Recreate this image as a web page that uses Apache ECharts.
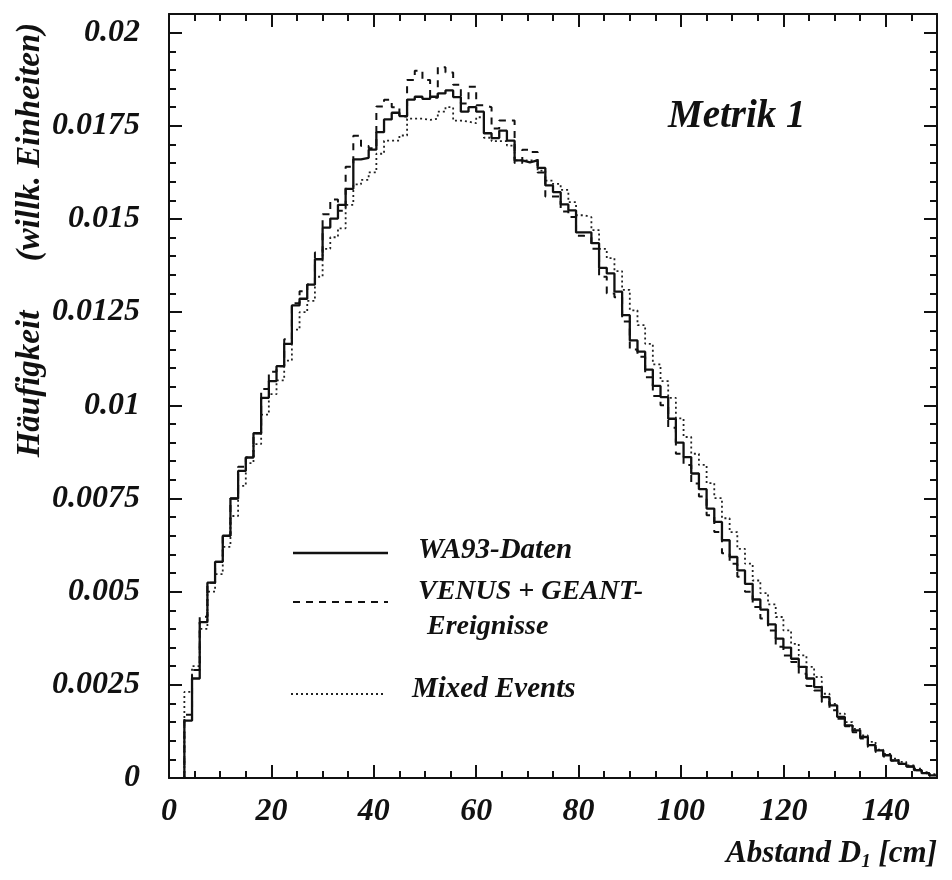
<!DOCTYPE html>
<html><head><meta charset="utf-8">
<script src="https://cdn.jsdelivr.net/npm/echarts@6/dist/echarts.min.js"></script>
<style>html,body{margin:0;padding:0;background:#fff}#c{width:952px;height:880px}</style>
</head><body><div id="c"></div>
<script>
// Histogram binning (bins start at 3 cm, 1.5 cm wide, up to 150 cm)
const binStart = 3;
const binWidth = 1.5;
const xMin = 0, xMax = 150;
const yMin = 0, yMax = 0.0205;

// WA93-Daten (solid)
const wa93 = [
 0.00154,0.00267,0.00418,0.00524,0.0058,0.0065,0.0075,0.00824,0.0086,0.00925,
 0.0102,0.01065,0.01105,0.01165,0.01268,0.01286,0.01324,0.01392,0.01477,0.01501,
 0.01538,0.01581,0.0166,0.01664,0.01686,0.01733,0.01767,0.01785,0.01776,0.0182,
 0.01828,0.01822,0.01828,0.01837,0.01845,0.01827,0.01788,0.018,0.01788,0.0173,
 0.01717,0.01737,0.0171,0.01657,0.01652,0.01657,0.01637,0.0159,0.01572,0.01539,
 0.01523,0.01464,0.01464,0.01435,0.01369,0.01354,0.01305,0.01242,0.01174,0.01144,
 0.01096,0.01052,0.01022,0.00964,0.009,0.00861,0.00817,0.00775,0.00723,0.00687,
 0.00638,0.00593,0.00557,0.00521,0.00479,0.00452,0.00412,0.00374,0.0035,0.0032,
 0.00298,0.00267,0.00244,0.00217,0.00195,0.00164,0.00141,0.00128,0.0011,0.00088,
 0.00074,0.00061,0.00047,0.00038,0.00031,0.00021,0.00013,0.00007
];
// VENUS + GEANT-Ereignisse (dashed)
const venus = [
 0.0017,0.0029,0.00433,0.00524,0.0058,0.0065,0.0075,0.00835,0.0086,0.00925,
 0.01044,0.0109,0.01105,0.01177,0.01274,0.01306,0.01324,0.0141,0.01513,0.01552,
 0.01522,0.0164,0.01723,0.01696,0.0169,0.01802,0.0182,0.018,0.01775,0.01873,
 0.01898,0.01873,0.01825,0.01907,0.01893,0.0186,0.0181,0.01855,0.01805,0.018,
 0.01743,0.01764,0.01764,0.0165,0.01686,0.0168,0.01625,0.0156,0.0156,0.0152,
 0.01505,0.01455,0.0145,0.0142,0.01345,0.013,0.0129,0.01225,0.0115,0.0113,
 0.01075,0.01025,0.01,0.0094,0.0087,0.0084,0.0079,0.00755,0.00705,0.0066,
 0.00603,0.00575,0.0054,0.005,0.00459,0.00428,0.00396,0.00352,0.00329,0.00311,
 0.0028,0.00247,0.00235,0.00204,0.00182,0.00159,0.00139,0.00123,0.00106,0.00083,
 0.0007,0.00058,0.00047,0.00038,0.0003,0.00021,0.00013,0.00006
];
// Mixed Events (dotted)
const mixed = [
 0.00231,0.003,0.004,0.005,0.00547,0.0062,0.00703,0.00784,0.00845,0.00896,
 0.00975,0.0103,0.01067,0.0112,0.01203,0.0125,0.0128,0.01345,0.0142,0.01451,
 0.01475,0.01538,0.01593,0.01605,0.01625,0.01675,0.0171,0.0171,0.01724,0.01769,
 0.01769,0.01766,0.01769,0.01788,0.018,0.01764,0.01761,0.01757,0.01773,0.01718,
 0.01709,0.01709,0.01697,0.01657,0.01657,0.01657,0.0163,0.01603,0.01594,0.01578,
 0.01545,0.0151,0.01505,0.0147,0.0142,0.01395,0.0136,0.0131,0.01255,0.01215,
 0.01165,0.0111,0.01065,0.0102,0.00965,0.00915,0.0087,0.0084,0.00791,0.00751,
 0.00697,0.0066,0.00615,0.00575,0.0053,0.00496,0.00466,0.00432,0.00396,0.0036,
 0.00329,0.00298,0.00271,0.00226,0.00199,0.00173,0.0015,0.00132,0.00114,0.00097,
 0.00076,0.00065,0.00052,0.00043,0.00034,0.00025,0.00016,0.0001
];

const xTickLabels = ['0','20','40','60','80','100','120','140'];
const yTickLabels = ['0','0.0025','0.005','0.0075','0.01','0.0125','0.015','0.0175','0.02'];
const legendLabels = ['WA93-Daten','VENUS + GEANT-',' Ereignisse','Mixed Events'];
const titleText = 'Metrik 1';
const xTitle = ['Abstand D','1',' [cm]'];
const yTitle = ['Häufigkeit','(willk. Einheiten)'];

const FONT = "'Liberation Serif','DejaVu Serif',serif";
const INK = '#111';

function toSteps(vals) {
  const pts = [[binStart, 0]];
  vals.forEach((v, i) => pts.push([binStart + i * binWidth, v]));
  pts.push([xMax, vals[vals.length - 1]]);
  return pts;
}

const lbl = {fontFamily: FONT, fontSize: 32, fontWeight: 'bold', fontStyle: 'italic', color: INK};
const tickStyle = {color: INK, width: 2};

function xAx(pos, showLabel) {
  return {
    type: 'value', min: xMin, max: xMax, interval: 20, position: pos,
    axisLine: {show: true, onZero: false, lineStyle: {color: INK, width: 2}},
    axisTick: {show: true, inside: true, length: 13, lineStyle: tickStyle},
    minorTick: {show: true, splitNumber: 4, length: 7, lineStyle: tickStyle},
    splitLine: {show: false}, minorSplitLine: {show: false},
    axisLabel: Object.assign({show: showLabel, margin: 18, showMaxLabel: false,
      formatter: v => xTickLabels[Math.round(v / 20)] ?? ''}, lbl)
  };
}
function yAx(pos, showLabel) {
  return {
    type: 'value', min: yMin, max: yMax, interval: 0.0025, position: pos,
    axisLine: {show: true, onZero: false, lineStyle: {color: INK, width: 2}},
    axisTick: {show: true, inside: true, length: 13, lineStyle: tickStyle},
    minorTick: {show: true, splitNumber: 5, length: 7, lineStyle: tickStyle},
    splitLine: {show: false}, minorSplitLine: {show: false},
    axisLabel: Object.assign({show: showLabel, margin: 29, showMaxLabel: false,
      formatter: v => yTickLabels[Math.round(v / 0.0025)] ?? ''}, lbl)
  };
}

const chart = echarts.init(document.getElementById('c'), null, {renderer: 'canvas'});
const txt = (x, y, text, size, extra) => ({
  type: 'text', x: x, y: y, silent: true,
  style: Object.assign({text: text, fill: INK, fontFamily: FONT, fontSize: size,
    fontWeight: 'bold', fontStyle: 'italic', align: 'left', verticalAlign: 'middle'}, extra || {})
});

chart.setOption({
  animation: false,
  backgroundColor: '#fff',
  grid: {left: 169, right: 15, top: 14, bottom: 102, containLabel: false},
  xAxis: [xAx('bottom', true), xAx('top', false)],
  yAxis: [yAx('left', true), yAx('right', false)],
  series: [
    {name: legendLabels[0], type: 'line', step: 'end', data: toSteps(wa93), symbol: 'none',
     lineStyle: {color: INK, width: 2.3}, z: 4},
    {name: legendLabels[1], type: 'line', step: 'end', data: toSteps(venus), symbol: 'none',
     lineStyle: {color: INK, width: 2, type: [7, 6]}, z: 3},
    {name: legendLabels[3], type: 'line', step: 'end', data: toSteps(mixed), symbol: 'none',
     lineStyle: {color: '#222', width: 1.8, type: [2, 3]}, z: 2}
  ],
  graphic: [
    txt(668, 117, titleText, 39),
    // legend
    {type: 'line', silent: true, shape: {x1: 293, y1: 553, x2: 388, y2: 553}, style: {stroke: INK, lineWidth: 2.3}},
    {type: 'line', silent: true, shape: {x1: 293, y1: 602, x2: 388, y2: 602}, style: {stroke: INK, lineWidth: 2, lineDash: [7, 6]}},
    {type: 'line', silent: true, shape: {x1: 291, y1: 694, x2: 384, y2: 694}, style: {stroke: '#222', lineWidth: 1.8, lineDash: [2, 3]}},
    txt(418, 551, legendLabels[0], 29),
    txt(418, 592, legendLabels[1], 28),
    txt(420, 627, legendLabels[2], 28),
    txt(412, 690, legendLabels[3], 29),
    // x axis title with subscript
    {type: 'text', x: 937, y: 854, silent: true,
     style: {text: '{m|' + xTitle[0] + '}{s|' + xTitle[1] + '}{m|' + xTitle[2] + '}',
       align: 'right', verticalAlign: 'middle', fill: INK,
       rich: {
         m: {fontFamily: FONT, fontSize: 31, fontWeight: 'bold', fontStyle: 'italic', color: INK, lineHeight: 36},
         s: {fontFamily: FONT, fontSize: 19, fontWeight: 'bold', fontStyle: 'italic', color: INK, lineHeight: 20, verticalAlign: 'bottom'}
       }}},
    // y axis title (rotated)
    Object.assign(txt(30, 384, yTitle[0], 33, {align: 'center'}), {rotation: Math.PI / 2}),
    Object.assign(txt(30, 142, yTitle[1], 33, {align: 'center'}), {rotation: Math.PI / 2})
  ]
});
</script>
</body></html>
